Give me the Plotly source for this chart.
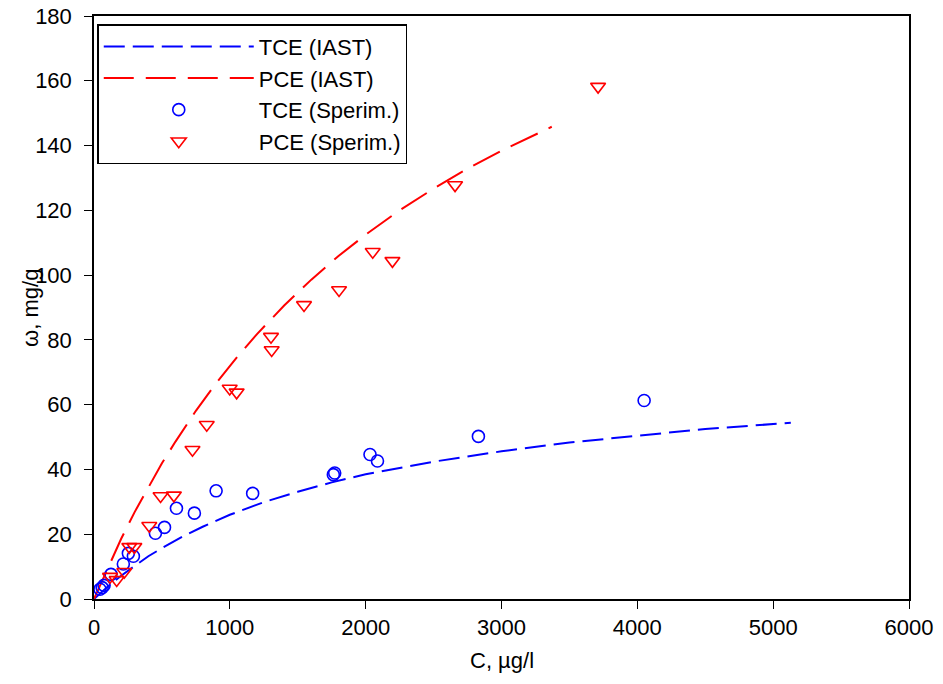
import plotly.graph_objects as go

# IAST model curves
tce_iast_c = [0, 100, 200, 300, 400, 500, 650, 800, 1000, 1250, 1500, 1750, 2000, 2500, 3000, 3500, 4000, 4500, 5130]
tce_iast_w = [0, 3.8, 7.2, 10.3, 13.2, 15.7, 19.2, 22.3, 26.0, 29.9, 33.1, 36.0, 38.5, 42.4, 45.6, 48.3, 50.5, 52.5, 54.4]

pce_iast_c = [0, 120, 200, 300, 400, 500, 600, 750, 900, 1050, 1200, 1400, 1600, 1800, 2000, 2250, 2500, 2750, 3000, 3200, 3370]
pce_iast_w = [0, 11.5, 18.6, 26.9, 34.6, 41.9, 48.6, 58.1, 66.7, 74.5, 81.8, 90.6, 98.6, 105.9, 112.5, 120.0, 126.7, 132.9, 138.4, 142.5, 145.8]

# Experimental points
tce_exp_c = [44, 60, 74, 125, 216, 253, 290, 452, 519, 607, 739, 899, 1168, 1762, 1772, 2032, 2087, 2830, 4050]
tce_exp_w = [3.0, 3.5, 4.2, 7.6, 10.8, 14.1, 13.2, 20.3, 22.1, 28.0, 26.5, 33.4, 32.6, 38.4, 38.9, 44.6, 42.6, 50.2, 61.3]

pce_exp_c = [118, 167, 223, 260, 297, 407, 490, 588, 725, 830, 999, 1050, 1303, 1308, 1546, 1804, 2052, 2197, 2658, 3711]
pce_exp_w = [6.9, 5.9, 8.4, 16.1, 16.1, 22.6, 31.8, 32.0, 46.1, 53.8, 65.0, 63.8, 81.0, 76.9, 90.8, 95.4, 107.2, 104.4, 127.8, 158.2]

x_ticks = [0, 1000, 2000, 3000, 4000, 5000, 6000]
y_ticks = [0, 20, 40, 60, 80, 100, 120, 140, 160, 180]

BLUE = "#0000FF"
RED = "#FF0000"
FONT = "Liberation Sans, Arial, sans-serif"
FS = 22

fig = go.Figure()
fig.add_trace(go.Scatter(x=tce_iast_c, y=tce_iast_w, mode="lines", name="TCE (IAST)",
                         line=dict(color=BLUE, width=2, dash="21px,8px")))
fig.add_trace(go.Scatter(x=pce_iast_c, y=pce_iast_w, mode="lines", name="PCE (IAST)",
                         line=dict(color=RED, width=2, dash="30px,12px")))
fig.add_trace(go.Scatter(x=tce_exp_c, y=tce_exp_w, mode="markers", name="TCE (Sperim.)",
                         marker=dict(symbol="circle-open", size=12, color=BLUE, line=dict(width=1.6, color=BLUE))))
fig.add_trace(go.Scatter(x=pce_exp_c, y=pce_exp_w, mode="markers", name="PCE (Sperim.)",
                         marker=dict(symbol="triangle-down-open", size=13, color=RED, line=dict(width=1.6, color=RED))))

axis_common = dict(showgrid=False, zeroline=False, showline=True, linecolor="black", linewidth=1.5,
                   mirror=True, ticks="outside", ticklen=8, tickwidth=1.2, tickcolor="black",
                   automargin=False,
                   tickfont=dict(family=FONT, size=FS, color="black"))

fig.update_xaxes(range=[0, 6000], tickvals=x_ticks, ticktext=[str(v) for v in x_ticks], **axis_common)
fig.update_yaxes(range=[0, 180], tickvals=y_ticks, ticktext=[str(v) for v in y_ticks],
                 ticklabelstandoff=8, **axis_common)

fig.update_layout(
    width=943, height=684,
    margin=dict(l=94, r=34, t=16, b=85),
    plot_bgcolor="white", paper_bgcolor="white",
    font=dict(family=FONT, color="black"),
    showlegend=True,
    legend=dict(x=0.004, y=0.986, xanchor="left", yanchor="top",
                bgcolor="white", bordercolor="black", borderwidth=1.5,
                font=dict(family=FONT, size=FS, color="black"),
                itemwidth=150, tracegroupgap=0),
    annotations=[
        dict(text="C, µg/l", xref="paper", yref="paper", x=0.5, y=-0.105,
             xanchor="center", yanchor="middle", showarrow=False,
             font=dict(family=FONT, size=FS, color="black")),
        dict(text="ω, mg/g", xref="paper", yref="paper", x=-0.078, y=0.5,
             xanchor="center", yanchor="middle", textangle=-90, showarrow=False,
             font=dict(family=FONT, size=FS, color="black")),
    ],
)

fig.write_html("out.html", config={"displayModeBar": False},
               post_script="document.body.style.margin='0';")
